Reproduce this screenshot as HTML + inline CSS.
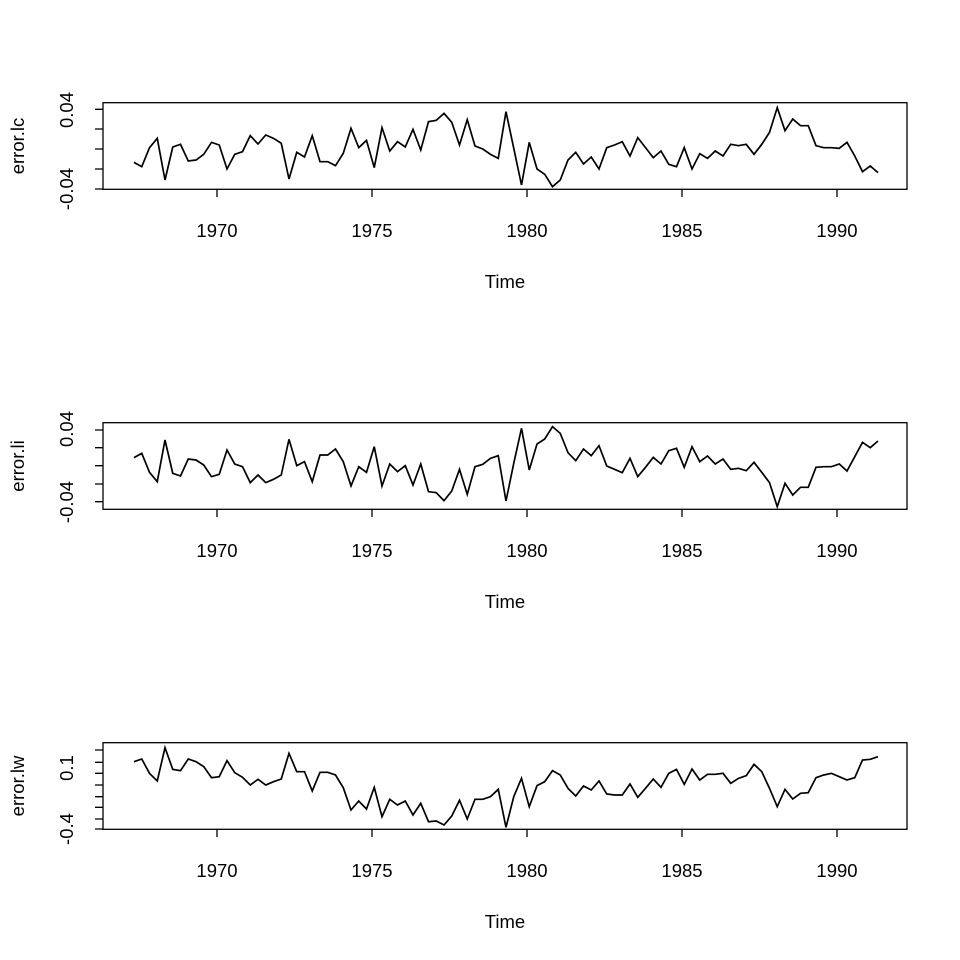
<!DOCTYPE html>
<html><head><style>html,body{margin:0;padding:0;background:#fff}svg{display:block}text{font-family:"Liberation Sans",Arial,sans-serif;font-size:18.5px;fill:#000}</style></head>
<body>
<svg width="960" height="960" viewBox="0 0 960 960" xmlns="http://www.w3.org/2000/svg">
<g fill="none" stroke="#000" stroke-width="1.3">
<!-- Panel 1 -->
<rect x="103" y="102.7" width="804" height="86.6"/>
<polyline vector-effect="non-scaling-stroke" stroke-width="1.7" transform="translate(134,95) scale(7.75,0.33333)" points="0,202 1,215 2,158 3,130 4,255 5,156 6,148 7,198 8,195 9,178 10,142 11,150 12,222 13,178 14,170 15,122 16,147 17,120 18,130 19,145 20,252 21,172 22,186 23,122 24,200 25,200 26,212 27,175 28,100 29,158 30,136 31,218 32,98 33,168 34,140 35,156 36,103 37,165 38,80 39,76 40,55 41,82 42,150 43,74 44,153 45,162 46,178 47,190 48,50 49,160 50,270 51,142 52,222 53,238 54,275 55,255 56,195 57,172 58,207 59,186 60,222 61,158 62,150 63,140 64,183 65,128 66,158 67,188 68,168 69,208 70,215 71,158 72,222 73,176 74,190 75,168 76,183 77,148 78,152 79,148 80,178 81,148 82,112 83,38 84,107 85,72 86,92 87,92 88,152 89,158 90,158 91,160 92,142 93,183 94,230 95,213 96,233"/>
<path d="M95 109.3H103M95 129H103M95 149H103M95 169H103M95 189H103"/>
<path d="M217 189V197M372 189V197M527 189V197M682 189V197M837 189V197"/>
<!-- Panel 2 -->
<rect x="103" y="422.7" width="804" height="86.6"/>
<polyline vector-effect="non-scaling-stroke" stroke-width="1.7" transform="translate(134,415) scale(7.75,0.33333)" points="0,128 1,115 2,172 3,200 4,75 5,175 6,183 7,132 8,135 9,150 10,185 11,178 12,105 13,147 14,155 15,203 16,180 17,203 18,193 19,180 20,73 21,152 22,140 23,200 24,120 25,120 26,102 27,140 28,213 29,155 30,172 31,95 32,213 33,147 34,170 35,152 36,210 37,147 38,230 39,233 40,257 41,228 42,163 43,238 44,155 45,148 46,130 47,122 48,258 49,145 50,40 51,165 52,87 53,72 54,35 55,55 56,113 57,137 58,102 59,122 60,92 61,153 62,163 63,173 64,130 65,185 66,157 67,127 68,147 69,107 70,100 71,157 72,95 73,140 74,123 75,147 76,132 77,163 78,160 79,167 80,142 81,172 82,203 83,275 84,205 85,240 86,217 87,217 88,157 89,155 90,155 91,147 92,168 93,125 94,82 95,98 96,78"/>
<path d="M95 430H103M95 447.7H103M95 465.7H103M95 484H103M95 501.7H103"/>
<path d="M217 509V517M372 509V517M527 509V517M682 509V517M837 509V517"/>
<!-- Panel 3 -->
<rect x="103" y="742.7" width="804" height="86.6"/>
<polyline vector-effect="non-scaling-stroke" stroke-width="1.7" transform="translate(134,735) scale(7.75,0.33333)" points="0,80 1,72 2,115 3,138 4,38 5,103 6,107 7,72 8,80 9,95 10,128 11,125 12,77 13,113 14,127 15,150 16,133 17,150 18,140 19,132 20,55 21,110 22,110 23,168 24,112 25,112 26,120 27,158 28,225 29,198 30,222 31,157 32,245 33,193 34,210 35,198 36,240 37,205 38,260 39,258 40,270 41,243 42,196 43,252 44,193 45,193 46,185 47,163 48,277 49,185 50,130 51,215 52,152 53,140 54,107 55,120 56,160 57,183 58,153 59,165 60,138 61,177 62,180 63,180 64,147 65,187 66,160 67,132 68,157 69,115 70,103 71,148 72,102 73,135 74,118 75,118 76,115 77,145 78,130 79,122 80,88 81,110 82,160 83,215 84,163 85,192 86,175 87,173 88,128 89,120 90,115 91,125 92,135 93,128 94,75 95,73 96,65"/>
<path d="M95 750H103M95 762.3H103M95 773.3H103M95 785H103M95 796.7H103M95 807.3H103M95 819H103M95 829H103"/>
<path d="M217 829V837M372 829V837M527 829V837M682 829V837M837 829V837"/>
</g>
<g text-anchor="middle">
<text x="217" y="237">1970</text><text x="372" y="237">1975</text><text x="527" y="237">1980</text><text x="682" y="237">1985</text><text x="837" y="237">1990</text>
<text x="505" y="288">Time</text>
<text transform="translate(73,110) rotate(-90)">0.04</text>
<text transform="translate(73,189) rotate(-90)">-0.04</text>
<text transform="translate(24,146) rotate(-90)">error.lc</text>

<text x="217" y="557">1970</text><text x="372" y="557">1975</text><text x="527" y="557">1980</text><text x="682" y="557">1985</text><text x="837" y="557">1990</text>
<text x="505" y="608">Time</text>
<text transform="translate(73,429) rotate(-90)">0.04</text>
<text transform="translate(73,502) rotate(-90)">-0.04</text>
<text transform="translate(24,466) rotate(-90)">error.li</text>

<text x="217" y="877">1970</text><text x="372" y="877">1975</text><text x="527" y="877">1980</text><text x="682" y="877">1985</text><text x="837" y="877">1990</text>
<text x="505" y="928">Time</text>
<text transform="translate(73,768) rotate(-90)">0.1</text>
<text transform="translate(73,829) rotate(-90)">-0.4</text>
<text transform="translate(24,786) rotate(-90)">error.lw</text>
</g>
</svg>
</body></html>
